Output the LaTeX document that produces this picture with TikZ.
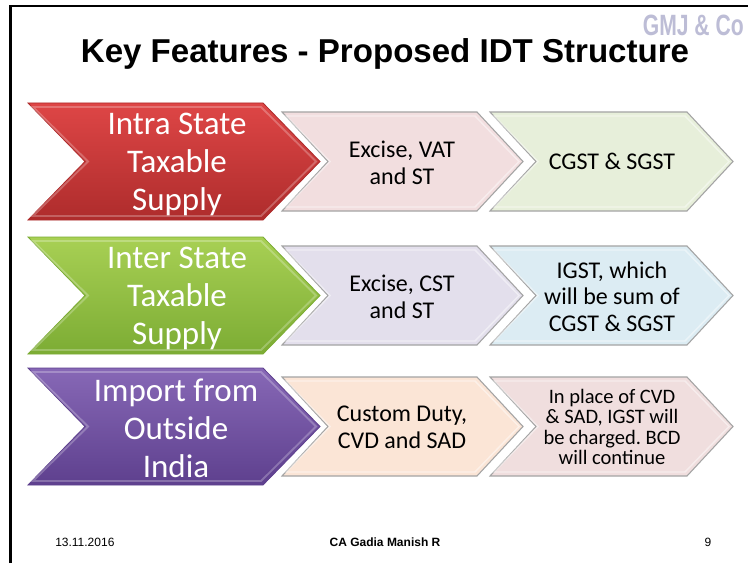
\documentclass[tikz,border=0pt]{standalone}
\usepackage{fontspec}
\setmainfont{Liberation Sans}
\newfontfamily\calfont{Carlito}
\newfontfamily\logofont[FakeStretch=0.72]{Liberation Sans}
\frenchspacing

\definecolor{redtop}{HTML}{DE4646}
\definecolor{redbot}{HTML}{AE2C2C}
\definecolor{greentop}{HTML}{A8D054}
\definecolor{greenbot}{HTML}{7CAC34}
\definecolor{purpletop}{HTML}{8768B6}
\definecolor{purplebot}{HTML}{5E408E}
\definecolor{pinkA}{HTML}{F2DEDF}
\definecolor{sage}{HTML}{E7EFDA}
\definecolor{lilac}{HTML}{E3DFEC}
\definecolor{skyA}{HTML}{DCECF3}
\definecolor{peach}{HTML}{FBE5D6}
\definecolor{pinkB}{HTML}{F0DEDE}
\definecolor{logogray}{HTML}{BDBDD6}
\definecolor{edgegray}{HTML}{A4A4A4}

% chevron outline: left x, top y, width, height, point depth
\newcommand\chev[5]{(#1,#2) -- (#1+#3-#5,#2) -- (#1+#3,#2+#4/2) -- (#1+#3-#5,#2+#4) -- (#1,#2+#4) -- (#1+#5,#2+#4/2) -- cycle}

\tikzset{
  bigtext/.style={text=white, align=center, inner sep=0pt,
    font=\calfont\fontsize{24.75}{28.5}\selectfont},
  midtext/.style={text=black, align=center, inner sep=0pt,
    font=\calfont\fontsize{18}{20}\selectfont},
  smalltext/.style={text=black, align=center, inner sep=0pt,
    font=\calfont\fontsize{15.4}{15.4}\selectfont},
  foot/.style={font=\fontsize{9}{11}\selectfont, anchor=base, inner sep=0pt},
  bevel/.style={draw=white, draw opacity=0.45, line width=1.1pt},
  softedge/.style={draw=edgegray, line width=0.8pt},
}

\begin{document}
\begin{tikzpicture}[x=0.75pt,y=-0.75pt]
\useasboundingbox (0,0) rectangle (748,563);
\fill[white] (0,0) rectangle (748,563);

% slide frame
\draw[line width=1.9pt] (10.5,563) -- (10.5,6) -- (748,6);

% heading and mark
\node[font=\bfseries\fontsize{24.8}{28}\selectfont, anchor=base, inner sep=0pt]
  (title) at (385,63) {Key Features - Proposed IDT Structure};
\node[font=\logofont\bfseries\fontsize{22}{24}\selectfont, text=logogray,
  anchor=base east, inner sep=0pt] (logo) at (744,36) {GMJ \& Co};

% ---- row 1 ----
\path[softedge, fill=sage] \chev{490}{112}{243}{99}{46};
\path[bevel] \chev{494}{116}{235}{91}{44};
\path[softedge, fill=pinkA] \chev{282}{112}{241}{99}{46};
\path[bevel] \chev{286}{116}{233}{91}{44};
\path[top color=redtop, bottom color=redbot, draw=redbot, line width=0.6pt] \chev{28}{103}{292}{117}{57};
\path[draw=white, draw opacity=0.25, line width=1.4pt] \chev{33}{107}{283}{109}{55};

\node[bigtext] (intra) at (177,164) {Intra State\\Taxable\\Supply};
\node[midtext] (r1m) at (402,162.5) {Excise, VAT\\and ST};
\node[midtext] (r1r) at (612,161.5) {CGST \& SGST};

% ---- row 2 ----
\path[softedge, fill=skyA] \chev{490}{246}{243}{99}{46};
\path[bevel] \chev{494}{250}{235}{91}{44};
\path[softedge, fill=lilac] \chev{282}{246}{241}{99}{46};
\path[bevel] \chev{286}{250}{233}{91}{44};
\path[top color=greentop, bottom color=greenbot, draw=greenbot, line width=0.6pt] \chev{28}{237}{292}{117}{57};
\path[draw=white, draw opacity=0.25, line width=1.4pt] \chev{33}{241}{283}{109}{55};

\node[bigtext] (inter) at (177,298) {Inter State\\Taxable\\Supply};
\node[midtext] (r2m) at (402,296.5) {Excise, CST\\and ST};
\node[midtext] (r2r) at (612,296.5) {IGST, which\\will be sum of\\CGST \& SGST};

% ---- row 3 ----
\path[softedge, fill=pinkB] \chev{490}{377}{243}{99}{46};
\path[bevel] \chev{494}{381}{235}{91}{44};
\path[softedge, fill=peach] \chev{282}{377}{241}{99}{46};
\path[bevel] \chev{286}{381}{233}{91}{44};
\path[top color=purpletop, bottom color=purplebot, draw=purplebot, line width=0.6pt] \chev{28}{368}{292}{117}{57};
\path[draw=white, draw opacity=0.25, line width=1.4pt] \chev{33}{372}{283}{109}{55};

\node[bigtext] (import) at (176,428.5) {Import from\\Outside\\India};
\node[midtext] (r3m) at (402,427.5) {Custom Duty,\\CVD and SAD};
\node[smalltext] (r3r) at (612,427) {In place of CVD\\\& SAD, IGST will\\be charged. BCD\\will continue};

% footer
\node[foot, anchor=base west] (date) at (55,546) {13.11.2016};
\node[foot, font=\bfseries\fontsize{9}{11}\selectfont] (author) at (385,546) {CA Gadia Manish R};
\node[foot] (page) at (708,546) {9};
\end{tikzpicture}
\end{document}
